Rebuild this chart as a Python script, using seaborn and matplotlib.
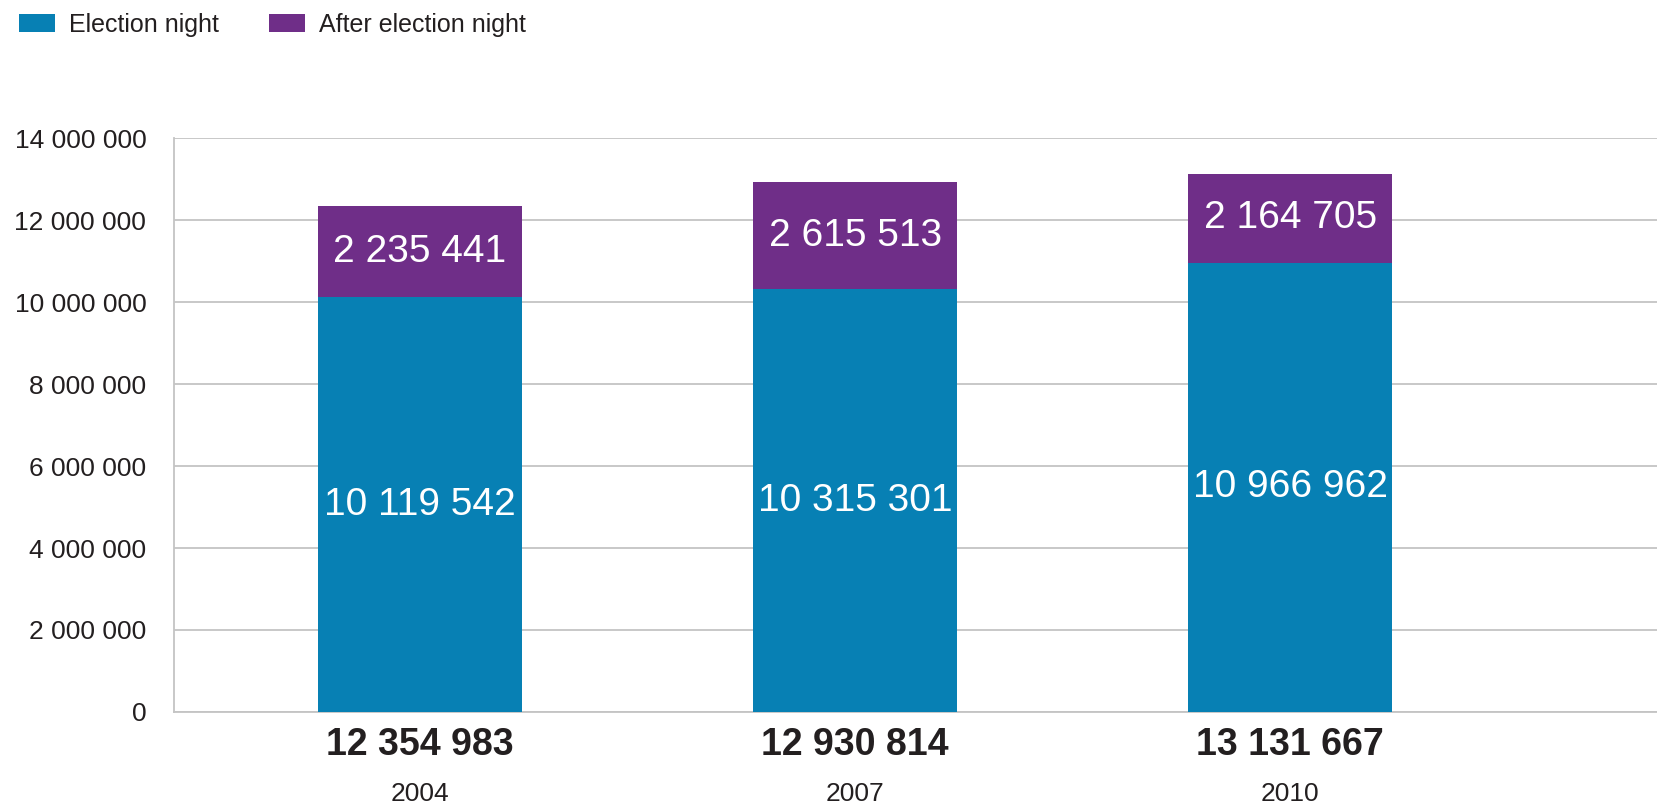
import pandas as pd
import numpy as np
import matplotlib.pyplot as plt
import seaborn as sns
from matplotlib.patches import Patch
from matplotlib.transforms import blended_transform_factory

years = ["2004", "2007", "2010"]
election_night = [10119542, 10315301, 10966962]
after_night = [2235441, 2615513, 2164705]
totals = [a + b for a, b in zip(election_night, after_night)]

blue = "#0780B4"
purple = "#6F2E88"
txt = "#231F20"

df = pd.DataFrame({"year": years, "night": election_night, "after": after_night, "total": totals})

def fmt(v):
    return f"{v:,}".replace(",", " ")

sns.set_theme(style="white")
plt.rcParams["font.family"] = ["Liberation Sans", "DejaVu Sans"]

fig = plt.figure(figsize=(16.58, 8.09), dpi=100)
ax = fig.add_axes([0.105, 0.12, 0.895, 0.709])

sns.barplot(data=df, x="year", y="total", color=purple, width=0.468, saturation=1, ax=ax,
            zorder=3, linewidth=0)
sns.barplot(data=df, x="year", y="night", color=blue, width=0.468, saturation=1, ax=ax,
            zorder=3, linewidth=0)

ax.set_xlim(-0.565, 2.845)
ax.set_ylim(0, 14000000)
yt = np.arange(0, 14000001, 2000000)
ax.set_yticks(yt)
ax.set_yticklabels([fmt(int(v)) for v in yt], fontsize=19, color=txt)
ax.tick_params(axis="y", length=0, pad=20)
ax.set_xticks([])
ax.set_xlabel("")
ax.set_ylabel("")
ax.yaxis.grid(True, color="#C4C4C4", linewidth=1.3, zorder=0)
ax.set_axisbelow(True)
for s in ["top", "right"]:
    ax.spines[s].set_visible(False)
for s in ["left", "bottom"]:
    ax.spines[s].set_color("#C4C4C4")
    ax.spines[s].set_linewidth(1.3)

tr = blended_transform_factory(ax.transData, ax.transAxes)
for i, y in enumerate(years):
    ax.text(i, election_night[i] / 2, fmt(election_night[i]), ha="center", va="center",
            color="white", fontsize=28, zorder=5)
    ax.text(i, election_night[i] + after_night[i] / 2, fmt(after_night[i]), ha="center", va="center",
            color="white", fontsize=28, zorder=5)
    ax.text(i, -0.058, fmt(totals[i]), transform=tr, ha="center", va="center",
            color=txt, fontsize=27, fontweight="bold")
    ax.text(i, -0.143, y, transform=tr, ha="center", va="center", color=txt, fontsize=19)

handles = [Patch(facecolor=blue, edgecolor="none", label="Election night"),
           Patch(facecolor=purple, edgecolor="none", label="After election night")]
fig.legend(handles=handles, loc="upper left", bbox_to_anchor=(-0.002, 1.012), ncol=2, frameon=False,
           fontsize=18, handlelength=1.45, handleheight=0.75, handletextpad=0.55, columnspacing=2.0,
           labelcolor=txt)

fig.savefig("out.png", dpi=100)
